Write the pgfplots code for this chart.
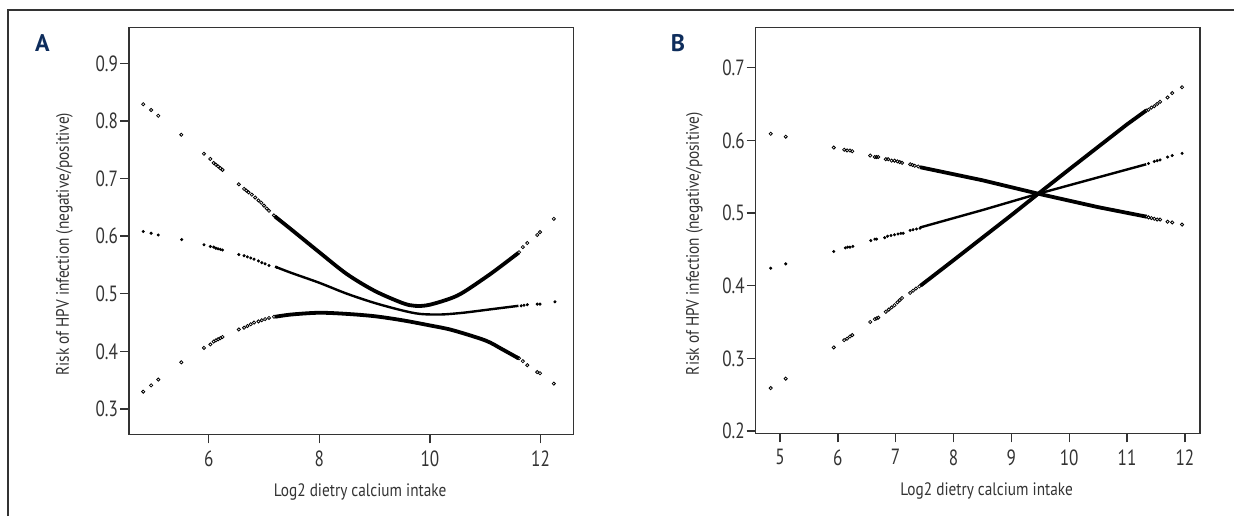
\documentclass[border=0pt]{standalone}
\usepackage{fontspec}
\setmainfont{PT Sans}[FakeStretch=0.85]
\newfontfamily\tickfont{PT Sans}[FakeStretch=0.78]
\newfontfamily\panelfont{PT Sans}
\usepackage{pgfplots}
\pgfplotsset{compat=1.18}

\definecolor{axgray}{RGB}{51,51,51}
\definecolor{panelblue}{RGB}{14,45,92}

\pgfplotsset{
  riskaxis/.style={
    scale only axis, anchor=south west,
    axis line style={axgray, line width=0.7pt},
    tick style={axgray, line width=0.7pt},
    tick align=outside, tick pos=left, major tick length=4.5pt,
    ticklabel style={font=\tickfont\fontsize{11}{13}\selectfont, text=axgray},
    label style={font=\fontsize{9}{11}\selectfont, text=axgray},
    /pgf/number format/assume math mode=true,
    y tick label style={inner sep=0.8pt, /pgf/number format/fixed,
      /pgf/number format/fixed zerofill, /pgf/number format/precision=1},
    xlabel={Log2 dietry calcium intake},
    ylabel={Risk of HPV infection (negative/positive)},
    xlabel style={at={(axis description cs:0.52,-0.142)}, anchor=center},
    ylabel style={at={(axis description cs:-0.145,0.467)}, anchor=center},
  },
  ci/.style={black, line width=1.9pt},
  fit/.style={black, line width=1.2pt},
  circ/.style={only marks, mark=o, mark size=0.8pt, mark options={black, line width=0.4pt}},
  dots/.style={only marks, mark=*, mark size=0.55pt, mark options={black}},
}

\begin{document}
\begin{tikzpicture}
\useasboundingbox (0,0) rectangle (617pt,258pt);
\draw[axgray, line width=0.75pt] (4pt,0) -- (4pt,253pt) -- (617pt,253pt);
\node[font=\panelfont\bfseries\fontsize{12}{14}\selectfont, text=panelblue] at (21.25pt,236.5pt) {A};
\node[font=\panelfont\bfseries\fontsize{12}{14}\selectfont, text=panelblue] at (339pt,236.5pt) {B};

% panel A
\begin{axis}[riskaxis, at={(64.5pt,40.85pt)}, width=222.25pt, height=203.5pt,
  xmin=4.559, xmax=12.596, ymin=0.256, ymax=0.9625,
  xtick={6,8,10,12}, ytick={0.3,0.4,0.5,0.6,0.7,0.8,0.9}]
% upper limit
\addplot[circ] coordinates {(4.816,0.829)(4.959,0.819)(5.088,0.809)(5.505,0.776)(5.914,0.743)(6.029,0.734)
 (6.09,0.727)(6.13,0.724)(6.17,0.721)(6.21,0.718)(6.25,0.715)(6.545,0.690)(6.64,0.682)(6.68,0.679)(6.72,0.676)
 (6.78,0.672)(6.84,0.667)(6.90,0.662)(6.95,0.658)(7.00,0.653)(7.05,0.648)(7.09,0.644)(7.18,0.636)(7.22,0.633)};
\addplot[ci, smooth] coordinates {(7.2,0.634)(7.5,0.611)(8.0,0.572)(8.5,0.534)(9.0,0.505)(9.5,0.484)(9.73,0.479)
 (10.0,0.481)(10.5,0.497)(11.0,0.528)(11.3,0.549)(11.6,0.571)};
\addplot[circ] coordinates {(11.55,0.567)(11.58,0.569)(11.61,0.572)(11.68,0.581)(11.76,0.588)(11.94,0.602)(11.99,0.607)(12.24,0.630)};
% fitted
\addplot[dots] coordinates {(4.816,0.608)(4.959,0.605)(5.088,0.602)(5.512,0.594)(5.914,0.585)(6.03,0.582)
 (6.09,0.581)(6.13,0.579)(6.17,0.578)(6.21,0.577)(6.25,0.576)(6.545,0.568)(6.64,0.566)(6.70,0.564)(6.76,0.562)
 (6.82,0.560)(6.90,0.557)(6.96,0.554)(7.02,0.552)(7.09,0.549)(7.23,0.546)};
\addplot[fit, smooth] coordinates {(7.2,0.547)(7.5,0.536)(8.0,0.519)(8.5,0.500)(9.0,0.484)(9.5,0.471)(9.82,0.465)
 (10.2,0.464)(10.6,0.467)(11.1,0.473)(11.6,0.479)};
\addplot[dots] coordinates {(11.65,0.479)(11.70,0.480)(11.76,0.481)(11.94,0.482)(11.99,0.482)(12.26,0.486)};
% lower limit
\addplot[circ] coordinates {(4.816,0.330)(4.959,0.341)(5.088,0.351)(5.505,0.381)(5.914,0.406)(6.03,0.412)
 (6.09,0.417)(6.13,0.419)(6.17,0.421)(6.21,0.423)(6.25,0.425)(6.545,0.438)(6.64,0.441)(6.70,0.444)(6.76,0.447)
 (6.82,0.450)(6.90,0.452)(6.96,0.454)(7.02,0.456)(7.09,0.458)(7.18,0.460)};
\addplot[ci, smooth] coordinates {(7.2,0.460)(7.5,0.464)(8.0,0.467)(8.5,0.465)(9.0,0.461)(9.5,0.454)(10.0,0.445)
 (10.4,0.437)(11.0,0.419)(11.3,0.404)(11.6,0.388)};
\addplot[circ] coordinates {(11.58,0.389)(11.61,0.388)(11.68,0.383)(11.76,0.376)(11.94,0.364)(11.99,0.362)(12.24,0.344)};
\end{axis}

% panel B
\begin{axis}[riskaxis, at={(377.85pt,41.35pt)}, width=222.05pt, height=203pt,
  xmin=4.581, xmax=12.257, ymin=0.1968, ymax=0.7555,
  xtick={5,6,7,8,9,10,11,12}, ytick={0.2,0.3,0.4,0.5,0.6,0.7},
  ylabel style={at={(axis description cs:-0.138,0.467)}},
  xlabel style={at={(axis description cs:0.52,-0.141)}}]
% decreasing limit
\addplot[circ] coordinates {(4.84,0.609)(5.10,0.605)(5.93,0.590)(6.11,0.587)(6.16,0.586)(6.21,0.586)(6.25,0.585)
 (6.56,0.579)(6.64,0.577)(6.67,0.577)(6.70,0.577)(6.83,0.574)(6.87,0.574)(6.93,0.572)(6.98,0.572)(7.03,0.571)
 (7.07,0.570)(7.11,0.569)(7.25,0.567)(7.29,0.566)(7.33,0.565)(7.39,0.564)};
\addplot[ci] coordinates {(7.42,0.563)(8.5,0.545)(9.465,0.5265)(10.5,0.508)(11.33,0.495)};
\addplot[circ] coordinates {(11.33,0.495)(11.37,0.494)(11.42,0.493)(11.47,0.492)(11.52,0.491)(11.57,0.491)
 (11.70,0.488)(11.78,0.487)(11.95,0.484)};
% fitted
\addplot[dots] coordinates {(4.84,0.424)(5.10,0.430)(5.93,0.447)(6.13,0.452)(6.17,0.453)(6.21,0.453)(6.26,0.454)
 (6.57,0.462)(6.64,0.464)(6.67,0.464)(6.81,0.466)(6.86,0.468)(6.92,0.469)(6.98,0.470)(7.04,0.471)(7.09,0.472)
 (7.13,0.472)(7.25,0.476)(7.30,0.477)(7.36,0.478)(7.42,0.479)};
\addplot[fit] coordinates {(7.42,0.480)(8.5,0.504)(9.465,0.5265)(10.5,0.549)(11.33,0.567)};
\addplot[dots] coordinates {(11.37,0.568)(11.47,0.571)(11.52,0.572)(11.57,0.573)(11.70,0.577)(11.78,0.579)(11.95,0.582)};
% increasing limit
\addplot[circ] coordinates {(4.84,0.259)(5.10,0.272)(5.93,0.315)(6.11,0.325)(6.16,0.327)(6.21,0.330)(6.25,0.332)
 (6.56,0.350)(6.64,0.354)(6.67,0.355)(6.70,0.356)(6.83,0.364)(6.88,0.367)(6.93,0.370)(6.98,0.373)(7.03,0.377)
 (7.07,0.380)(7.11,0.383)(7.25,0.390)(7.30,0.393)(7.35,0.396)(7.41,0.399)};
\addplot[ci] coordinates {(7.43,0.400)(8.0,0.435)(9.0,0.497)(9.465,0.5265)(10.0,0.560)(11.0,0.622)(11.33,0.641)};
\addplot[circ] coordinates {(11.33,0.641)(11.37,0.642)(11.42,0.645)(11.47,0.647)(11.52,0.650)(11.57,0.653)
 (11.70,0.659)(11.78,0.665)(11.95,0.673)};
\end{axis}
\end{tikzpicture}
\end{document}
